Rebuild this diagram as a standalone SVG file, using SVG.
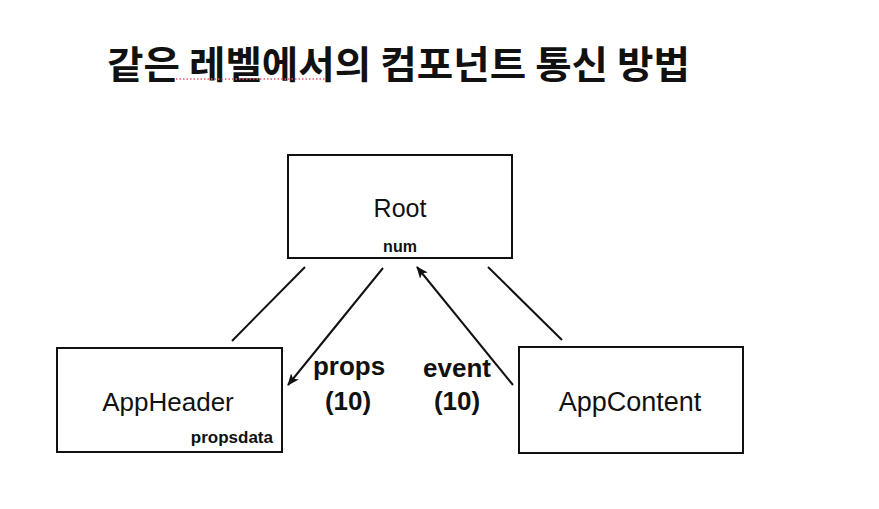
<svg xmlns="http://www.w3.org/2000/svg" width="879" height="509" viewBox="0 0 879 509">
<defs>
<style>
.box{fill:#fff;stroke:#111;stroke-width:2}
.lbl{font-family:"Liberation Sans",Arial,sans-serif;fill:#111;text-anchor:middle}
.conn{stroke:#111;stroke-width:2;fill:none}
</style>
<marker id="ah" viewBox="0 0 12 10" refX="11" refY="5" markerWidth="12" markerHeight="10" markerUnits="userSpaceOnUse" orient="auto">
<path d="M0,0 L12,5 L0,10 L3,5 Z" fill="#111"/>
</marker>
</defs>
<rect width="879" height="509" fill="#fff"/>
<g id="title">
<text x="107" y="78" font-family="'Noto Sans CJK KR',sans-serif" font-weight="bold" font-size="38" textLength="583" lengthAdjust="spacingAndGlyphs" fill="#111">같은 레벨에서의 컴포넌트 통신 방법</text>
<line x1="176" y1="79" x2="325" y2="79" stroke="#e06070" stroke-width="1.5" stroke-dasharray="1.5 2"/>
</g>
<g id="connectors">
<line class="conn" x1="305" y1="267" x2="232" y2="341"/>
<line class="conn" x1="383" y1="268" x2="288" y2="385" marker-end="url(#ah)"/>
<line class="conn" x1="513" y1="385" x2="417" y2="267" marker-end="url(#ah)"/>
<line class="conn" x1="488" y1="267" x2="562" y2="340"/>
<g class="lbl" font-weight="bold" font-size="26">
<text x="349" y="375">props</text>
<text x="348" y="410">(10)</text>
<text x="457" y="377">event</text>
<text x="457" y="410">(10)</text>
</g>
</g>
<g id="root">
<rect class="box" x="288" y="155" width="224" height="103"/>
<text class="lbl" x="400" y="217" font-size="25">Root</text>
<text class="lbl" x="400" y="252" font-size="16" font-weight="bold">num</text>
</g>
<g id="appheader">
<rect class="box" x="57" y="348" width="225" height="104"/>
<text class="lbl" x="168" y="411" font-size="26">AppHeader</text>
<text class="lbl" x="273" y="443" font-size="17" font-weight="bold" style="text-anchor:end">propsdata</text>
</g>
<g id="appcontent">
<rect class="box" x="519" y="347" width="224" height="106"/>
<text class="lbl" x="630" y="411" font-size="27">AppContent</text>
</g>
</svg>
